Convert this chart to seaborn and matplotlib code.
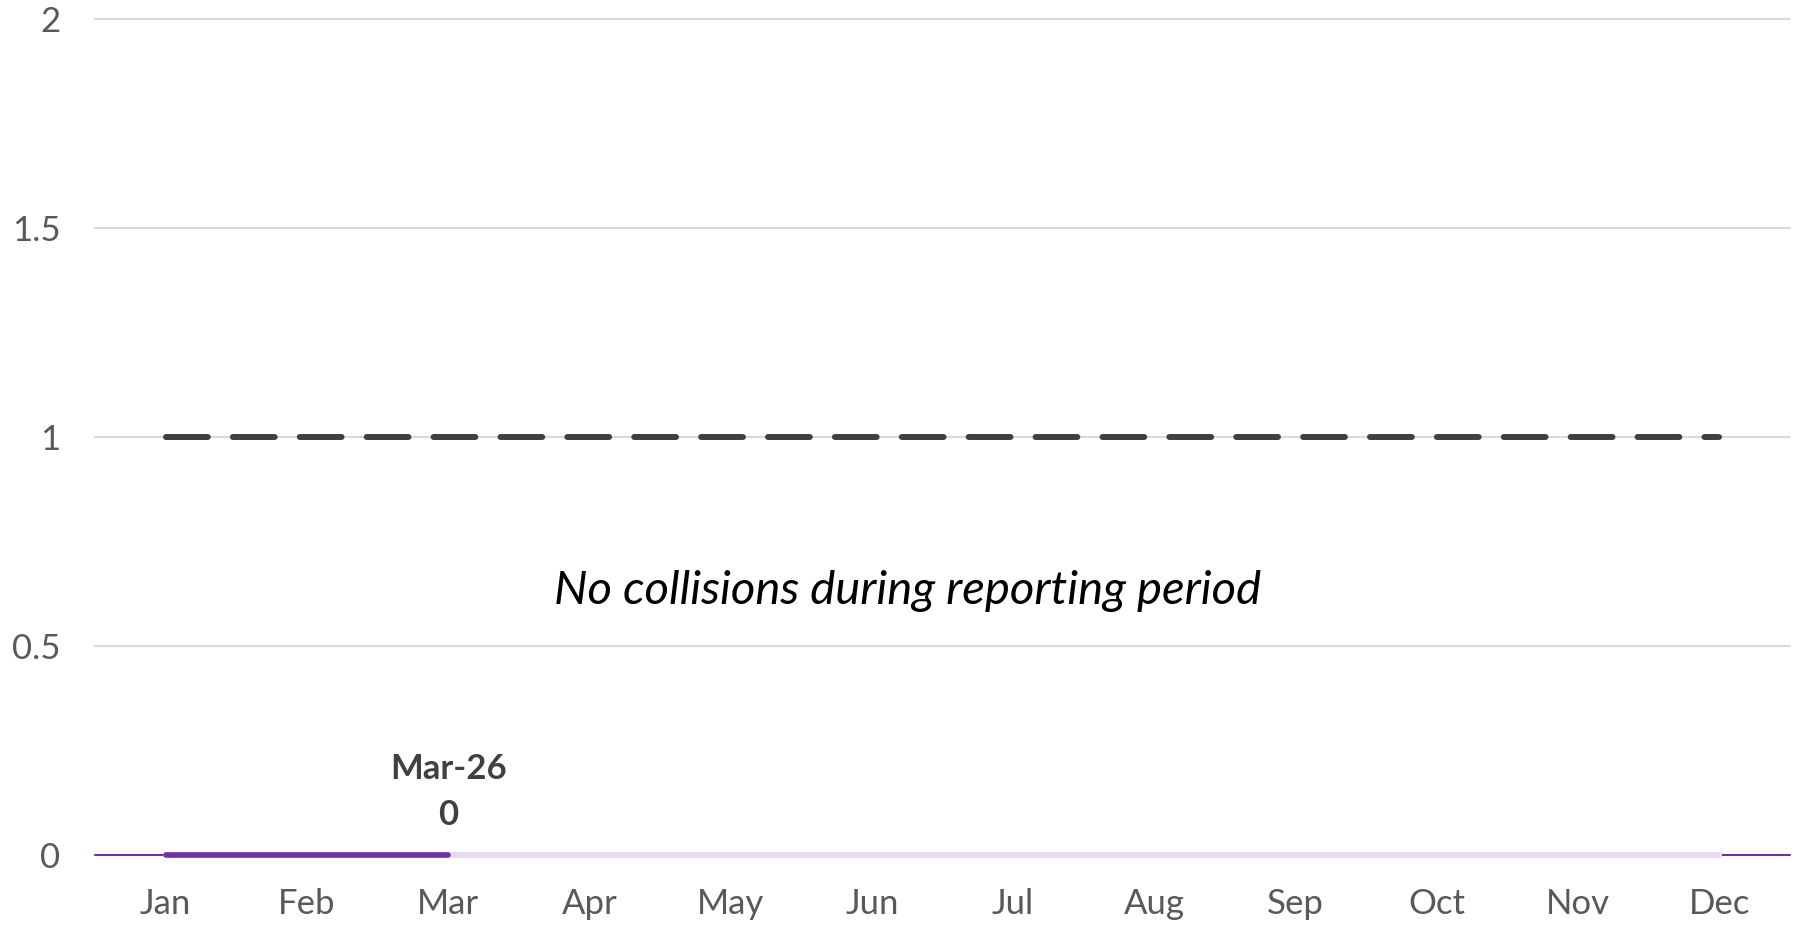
import numpy as np
import pandas as pd
import matplotlib
matplotlib.use("Agg")
import matplotlib.pyplot as plt
import seaborn as sns

months = ["Jan", "Feb", "Mar", "Apr", "May", "Jun", "Jul", "Aug", "Sep", "Oct", "Nov", "Dec"]
collisions = [0, 0, 0]            # reported months so far (Jan-Mar)
background = [0] * 12             # light full-year track
target = [1] * 12                 # dashed threshold line
y_ticks = [0, 0.5, 1, 1.5, 2]
y_tick_labels = ["0", "0.5", "1", "1.5", "2"]
last_label = "Mar-26"
note = "No collisions during reporting period"

sns.set_style("white")
plt.rcParams["font.family"] = ["Lato", "DejaVu Sans"]

dark = "#7030A0"
light = "#E6DAF2"
grey_txt = "#595959"

fig = plt.figure(figsize=(17.99, 9.27), dpi=100)
ax = fig.add_axes([0.0528, 0.0777, 0.9422, 0.9013])

x_all = np.arange(len(months))
df_bg = pd.DataFrame({"x": x_all, "y": background})
df_tg = pd.DataFrame({"x": x_all, "y": target})
df_c = pd.DataFrame({"x": x_all[:len(collisions)], "y": collisions})

# light grid lines
for yv in y_ticks[1:]:
    ax.axhline(yv, color="#D9D9D9", lw=1.5, zorder=0)

sns.lineplot(data=df_bg, x="x", y="y", ax=ax, color=light, lw=4.5,
             solid_capstyle="round", zorder=2)
sns.lineplot(data=df_c, x="x", y="y", ax=ax, color=dark, lw=4,
             solid_capstyle="round", zorder=3)
sns.lineplot(data=df_tg, x="x", y="y", ax=ax, color="#404040", lw=4.3, zorder=3)
tl = ax.lines[-1]
tl.set_dashes((7, 4.2))
tl.set_dash_capstyle("round")

ax.axhline(0, color=dark, lw=1.5, zorder=1)

last_i = len(collisions) - 1
ax.annotate(f"{last_label}\n{collisions[-1]}", xy=(x_all[last_i], collisions[-1]),
            xytext=(0, 17), textcoords="offset points", ha="center", va="bottom",
            fontsize=25, fontweight="bold", color="#404040", linespacing=1.55)

ax.text(5.25, 0.632, note, ha="center", va="center", fontsize=34,
        style="italic", color="black")

ax.set_xlim(-0.5, 11.5)
ax.set_ylim(0, 2)
ax.set_xticks(x_all)
ax.set_xticklabels(months)
ax.set_yticks(y_ticks)
ax.set_yticklabels(y_tick_labels)
ax.tick_params(axis="both", length=0, labelsize=25, labelcolor=grey_txt)
ax.tick_params(axis="x", pad=24)
ax.tick_params(axis="y", pad=25)
ax.set_xlabel("")
ax.set_ylabel("")
for s in ax.spines.values():
    s.set_visible(False)
for l in ax.lines:
    l.set_clip_on(False)

fig.savefig("out.png", dpi=100)
